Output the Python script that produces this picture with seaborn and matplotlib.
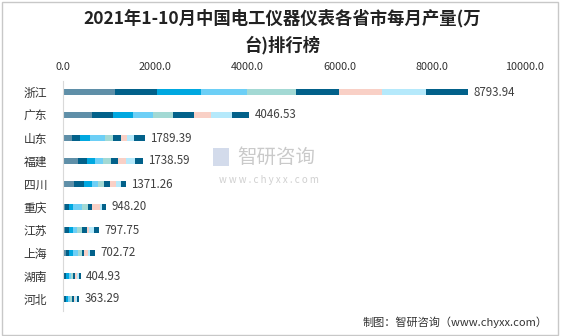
import numpy as np
import pandas as pd
import matplotlib
matplotlib.use("Agg")
import matplotlib.pyplot as plt
import seaborn as sns
from matplotlib.patches import Rectangle

provinces = ["浙江", "广东", "山东", "福建", "四川", "重庆", "江苏", "上海", "湖南", "河北"]
totals = [8793.94, 4046.53, 1789.39, 1738.59, 1371.26, 948.20, 797.75, 702.72, 404.93, 363.29]
months = ["1-2月", "3月", "4月", "5月", "6月", "7月", "8月", "9月", "10月"]
# monthly values per province (segments in month order)
zhejiang = [1144, 907, 957, 986, 1065, 928, 943, 957, 906.94]
guangdong = [649, 447, 426, 433, 440, 460, 363, 460, 368.53]
shandong = [211, 176, 211, 331, 155, 176, 127, 162, 240.39]
fujian = [342, 190, 166, 183, 166, 146, 190, 181, 174.59]
sichuan = [257, 205, 176, 132, 139, 110, 132, 117, 103.26]
chongqing = [59, 88, 74, 198, 132, 88, 169, 51, 89.20]
jiangsu = [50, 93, 85, 93, 107, 107, 50, 107, 105.75]
shanghai = [72, 72, 86, 100, 86, 57, 72, 57, 100.72]
hunan = [36, 43, 58, 43, 51, 43, 36, 43, 51.93]
hebei = [32, 39, 52, 39, 46, 39, 32, 39, 45.29]

colors = ["#5f8fa8", "#02618a", "#00a8e0", "#6dcff6", "#a3d9d4",
          "#02618a", "#f9d0c6", "#b5e9fb", "#02618a"]

rows = [zhejiang, guangdong, shandong, fujian, sichuan, chongqing, jiangsu, shanghai, hunan, hebei]
mat = np.array(rows, dtype=float)
cum = np.cumsum(mat, axis=1)

sns.set_style("white")
plt.rcParams["font.family"] = ["Noto Sans CJK SC", "DejaVu Sans"]

fig = plt.figure(figsize=(5.62, 3.36), dpi=100)
ax = fig.add_axes([62.5 / 562, 1 - 310.5 / 336, 461.5 / 562, 230 / 336])

for k in range(len(months) - 1, -1, -1):
    df = pd.DataFrame({"省市": provinces, "产量": cum[:, k]})
    sns.barplot(data=df, y="省市", x="产量", orient="h", color=colors[k],
                width=0.29, saturation=1, ax=ax, linewidth=0, edgecolor="none")

for i, t in enumerate(totals):
    ax.text(t + 110, i, f"{t:.2f}", va="center", ha="left", fontsize=8.3, color="#404040")

ax.set_xlim(0, 10000)
ax.set_ylim(9.5, -0.5)
ax.set_xticks(np.arange(0, 10001, 2000))
ax.set_xticklabels([f"{v:.1f}" for v in np.arange(0, 10001, 2000)], fontsize=7.8, color="#333333")
ax.xaxis.tick_top()
ax.tick_params(axis="x", length=0, pad=6)
ax.tick_params(axis="y", length=0, pad=11, labelsize=8.5, labelcolor="#333333")
ax.set_xlabel("")
ax.set_ylabel("")
for s in ["top", "right", "bottom"]:
    ax.spines[s].set_visible(False)
ax.spines["left"].set_color("#d9d9d9")
ax.spines["left"].set_linewidth(0.8)
ax.grid(False)

fig.text(0.502, 1 - 18 / 336, "2021年1-10月中国电工仪器仪表各省市每月产量(万", ha="center", va="center",
         fontsize=12.5, fontweight="bold", color="#222222")
fig.text(0.502, 1 - 45 / 336, "台)排行榜", ha="center", va="center",
         fontsize=12.5, fontweight="bold", color="#222222")

# watermark
fig.text(276 / 562, 1 - 157 / 336, "智研咨询", ha="center", va="center", fontsize=14, color="#bdbdbd", alpha=0.8)
fig.text(269 / 562, 1 - 180 / 336, "w w w . c h y x x . c o m", ha="center", va="center", fontsize=7, color="#c4c4c4", alpha=0.8)
fig.patches.append(Rectangle((213 / 562, 1 - 166 / 336), 16 / 562, 18 / 336, transform=fig.transFigure,
                             facecolor="#c8d3e6", edgecolor="none", alpha=0.8))

fig.text(548 / 562, 1 - 322 / 336, "制图：智研咨询（www.chyxx.com）", ha="right", va="center",
         fontsize=8, color="#333333")

fig.patches.append(Rectangle((0.003, 0.004), 0.99, 0.99, transform=fig.transFigure,
                             facecolor="none", edgecolor="#c8c8c8", linewidth=1))

fig.savefig("out.png", dpi=100)
